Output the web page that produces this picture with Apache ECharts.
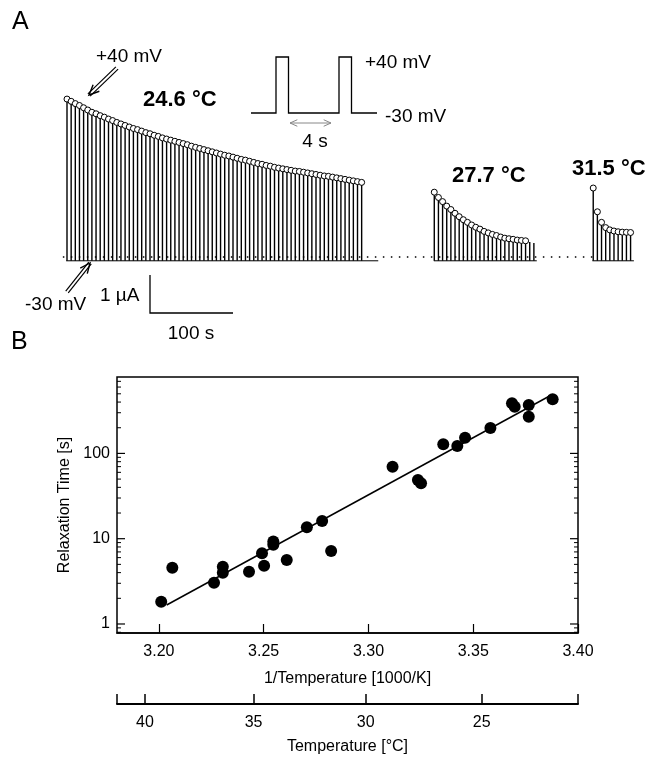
<!DOCTYPE html>
<html>
<head>
<meta charset="utf-8">
<script src="https://cdn.jsdelivr.net/npm/echarts@6/dist/echarts.min.js"></script>
<style>
  html, body { margin: 0; padding: 0; background: #fff; }
  #chart { width: 657px; height: 762px; }
</style>
</head>
<body>
<div id="chart"></div>
<script>
// panel A: peak outward current (µA) of each +40 mV pulse, one pulse every 5 s
const pulsePeriod = 5
const run246Start = 0
const run246Peaks = [
  4.19, 4.13, 4.07, 4.02, 3.96, 3.90, 3.84, 3.80, 3.75, 3.71, 3.66, 3.62, 3.57, 3.53, 3.49,
  3.45, 3.41, 3.38, 3.34, 3.30, 3.27, 3.23, 3.20, 3.16, 3.13, 3.10, 3.07, 3.04, 3.01, 2.98,
  2.94, 2.91, 2.88, 2.85, 2.82, 2.79, 2.76, 2.73, 2.70, 2.68, 2.65, 2.62, 2.59, 2.57, 2.54,
  2.51, 2.48, 2.46, 2.43, 2.41, 2.38, 2.36, 2.34, 2.32, 2.30, 2.28, 2.27, 2.25, 2.23, 2.21,
  2.19, 2.17, 2.15, 2.14, 2.12, 2.10, 2.08, 2.06, 2.04, 2.02, 2.00, 1.98
]
const run277Start = 442.5
const run277Peaks = [
  1.72, 1.58, 1.47, 1.35, 1.26, 1.16, 1.07, 0.99, 0.92, 0.85, 0.79, 0.74, 0.68,
  0.64, 0.60, 0.57, 0.53, 0.50, 0.485, 0.47, 0.45, 0.44, 0.43, 0.40, 0.37
]
const run277Marked = 23
const run315Start = 634
const run315Peaks = [1.83, 1.20, 0.92, 0.78, 0.72, 0.69, 0.67, 0.66, 0.655, 0.65]
const traceFloor = -0.1
const baselineSpan = [-5, 634]
const floorSpans = [[-1, 375], [442, 566], [633, 683]]

// panel B: relaxation time vs 1/T
const invTemp = [
  3.2011, 3.2064, 3.2263, 3.2305, 3.2305, 3.2430, 3.2492, 3.2502, 3.2546, 3.2546,
  3.2610, 3.2706, 3.2779, 3.2822, 3.3115, 3.3236, 3.3251, 3.3357, 3.3424, 3.3461,
  3.3582, 3.3685, 3.3698, 3.3765, 3.3765, 3.3879
]
const relaxTime = [
  1.82, 4.57, 3.05, 4.7, 4.0, 4.10, 6.74, 4.83, 9.3, 8.5,
  5.63, 13.6, 16.1, 7.17, 69.8, 48.8, 44.6, 128, 122, 153,
  199, 387, 353, 369, 269, 431
]
const fitLine = [[3.2037, 1.67], [3.3873, 484]]
const invTempRange = [3.18, 3.40]
const invTempTicks = [3.20, 3.25, 3.30, 3.35, 3.40]
const relaxRange = [0.784, 787]
const relaxTicks = [1, 10, 100]
const relaxMinorTicks = [0.8, 0.9, 2, 3, 4, 5, 6, 7, 8, 9, 20, 30, 40, 50, 60, 70, 80, 90,
  200, 300, 400, 500, 600, 700]
const celsiusTicks = [40, 35, 30, 25]

const FONT = '"Liberation Sans", Arial, Helvetica, sans-serif'
const chart = echarts.init(document.getElementById('chart'), null, { renderer: 'canvas' })

const toInv = c => 1000 / (c + 273.15)
const pulses = (start, peaks) => peaks.map((v, i) => [start + i * pulsePeriod, v])

const run246 = pulses(run246Start, run246Peaks)
const run277 = pulses(run277Start, run277Peaks)
const run315 = pulses(run315Start, run315Peaks)

function renderSpike (params, api) {
  const top = api.coord([api.value(0), api.value(1)])
  const bot = api.coord([api.value(0), traceFloor])
  return {
    type: 'line',
    shape: { x1: top[0], y1: top[1], x2: bot[0], y2: bot[1] },
    style: { stroke: '#000', lineWidth: 1.4 }
  }
}

function spikeSeries (data) {
  return {
    type: 'custom', xAxisIndex: 0, yAxisIndex: 0, clip: false,
    renderItem: renderSpike, data: data, silent: true
  }
}

function peakSeries (data) {
  return {
    type: 'scatter', xAxisIndex: 0, yAxisIndex: 0, symbol: 'circle', symbolSize: 6,
    itemStyle: { color: '#fff', borderColor: '#000', borderWidth: 1, opacity: 1 },
    data: data, silent: true, z: 3
  }
}

// inward tick marks on both sides of the log axis, placed by the log scale
function renderLogTick (params, api) {
  const y = api.coord([invTempRange[0], api.value(1)])[1]
  const len = api.value(2)
  const cs = params.coordSys
  const st = { stroke: '#000', lineWidth: len > 5 ? 1.2 : 1 }
  return {
    type: 'group',
    children: [
      { type: 'line', shape: { x1: cs.x, y1: y, x2: cs.x + len, y2: y }, style: st },
      { type: 'line', shape: { x1: cs.x + cs.width, y1: y, x2: cs.x + cs.width - len, y2: y }, style: st }
    ]
  }
}
const tickData = relaxTicks.map(v => [invTempRange[0], v, 8])
  .concat(relaxMinorTicks.map(v => [invTempRange[0], v, 4]))

// small arrow helpers for the annotations
function arrowHead (x, y, ang, len, color, lw) {
  const p1 = [x - len * Math.cos(ang - 0.42), y - len * Math.sin(ang - 0.42)]
  const p2 = [x - len * Math.cos(ang + 0.42), y - len * Math.sin(ang + 0.42)]
  return { type: 'polyline', shape: { points: [p1, [x, y], p2] }, style: { stroke: color, lineWidth: lw, fill: null } }
}
function doubleArrow (x1, y1, x2, y2) {
  const a = Math.atan2(y2 - y1, x2 - x1)
  const nx = -Math.sin(a) * 1.6, ny = Math.cos(a) * 1.6
  return [
    { type: 'line', shape: { x1: x1 + nx, y1: y1 + ny, x2: x2 + nx, y2: y2 + ny }, style: { stroke: '#000', lineWidth: 1.2 } },
    { type: 'line', shape: { x1: x1 - nx, y1: y1 - ny, x2: x2 - nx, y2: y2 - ny }, style: { stroke: '#000', lineWidth: 1.2 } },
    arrowHead(x2, y2, a, 11, '#000', 1.4)
  ]
}
function txt (x, y, s, size, opts) {
  return {
    type: 'text', x: x, y: y,
    style: { text: s, font: (opts && opts.bold ? 'bold ' : '') + size + 'px ' + FONT, fill: '#000', verticalAlign: 'middle', align: (opts && opts.align) || 'left' }
  }
}

const graphics = [
  txt(12, 22, 'A', 25),
  txt(11, 342, 'B', 25),
  txt(96, 57, '+40 mV', 19),
  txt(143, 100, '24.6 °C', 22, { bold: true }),
  txt(452, 176, '27.7 °C', 22, { bold: true }),
  txt(572, 169, '31.5 °C', 22, { bold: true }),
  txt(365, 63, '+40 mV', 19),
  txt(385, 117, '-30 mV', 19),
  txt(315, 142, '4 s', 19, { align: 'center' }),
  txt(25, 305, '-30 mV', 19),
  txt(100, 296, '1 µA', 19),
  txt(191, 334, '100 s', 19, { align: 'center' }),
  // voltage protocol inset
  { type: 'polyline', shape: { points: [[251, 113], [276, 113], [276, 57], [288.5, 57], [288.5, 113], [339, 113], [339, 57], [351.5, 57], [351.5, 113], [377, 113]] },
    style: { stroke: '#000', lineWidth: 1.3, fill: null } },
  { type: 'line', shape: { x1: 290, y1: 123, x2: 331, y2: 123 }, style: { stroke: '#888', lineWidth: 1 } },
  arrowHead(290, 123, Math.PI, 8, '#888', 1),
  arrowHead(331, 123, 0, 8, '#888', 1),
  // scale bars
  { type: 'polyline', shape: { points: [[150, 275], [150, 313], [233, 313]] }, style: { stroke: '#000', lineWidth: 1.3, fill: null } }
].concat(doubleArrow(117, 68, 89, 95), doubleArrow(67, 292, 90, 263))

const option = {
  animation: false,
  backgroundColor: '#fff',
  textStyle: { fontFamily: FONT },
  graphic: graphics,
  grid: [
    { left: 58.7, right: 7, top: 70, height: 220 },
    { left: 117, right: 79, top: 377, bottom: 129, show: true, borderColor: '#000', borderWidth: 1.5, backgroundColor: 'transparent' },
    { left: 117, right: 79, top: 694, bottom: 58 }
  ],
  xAxis: [
    { gridIndex: 0, type: 'value', min: -10, max: 702.4, show: false },
    {
      gridIndex: 1, type: 'value', min: invTempRange[0], max: invTempRange[1], position: 'bottom',
      name: '1/Temperature [1000/K]', nameLocation: 'middle', nameGap: 38,
      nameTextStyle: { fontSize: 16, color: '#000', fontFamily: FONT },
      axisLine: { onZero: false, lineStyle: { color: '#000', width: 1.5 } },
      axisTick: { inside: true, length: 9, customValues: invTempTicks, lineStyle: { color: '#000', width: 1.2 } },
      axisLabel: { customValues: invTempTicks, formatter: v => v.toFixed(2), fontSize: 16, color: '#000', margin: 11, fontFamily: FONT },
      splitLine: { show: false }
    },
    {
      gridIndex: 2, type: 'value', min: invTempRange[0], max: invTempRange[1], position: 'bottom',
      name: 'Temperature [°C]', nameLocation: 'middle', nameGap: 35,
      nameTextStyle: { fontSize: 16, color: '#000', fontFamily: FONT },
      axisLine: { onZero: false, lineStyle: { color: '#000', width: 2 } },
      axisTick: { inside: true, length: 10, customValues: invTempRange.concat(celsiusTicks.map(toInv)), lineStyle: { color: '#000', width: 1.5 } },
      axisLabel: { customValues: celsiusTicks.map(toInv), formatter: v => String(Math.round(1000 / v - 273.15)), fontSize: 16, color: '#000', margin: 11, fontFamily: FONT },
      splitLine: { show: false }
    }
  ],
  yAxis: [
    { gridIndex: 0, type: 'value', min: -0.875, max: 4.961, show: false },
    {
      gridIndex: 1, type: 'log', min: relaxRange[0], max: relaxRange[1], position: 'left',
      name: 'Relaxation Time [s]', nameLocation: 'middle', nameGap: 39,
      nameTextStyle: { fontSize: 16, color: '#000', fontFamily: FONT },
      axisLine: { show: false },
      axisTick: { show: false },
      axisLabel: { customValues: relaxTicks, fontSize: 16, color: '#000', margin: 7, fontFamily: FONT },
      splitLine: { show: false }
    },
    { gridIndex: 2, type: 'value', min: 0, max: 1, show: false }
  ],
  series: [
    {
      type: 'line', xAxisIndex: 0, yAxisIndex: 0, symbol: 'none', silent: true,
      data: baselineSpan.map(t => [t, 0]),
      lineStyle: { color: '#000', width: 1.3, type: [1.5, 6.5] }
    },
    ...floorSpans.map(s => ({
      type: 'line', xAxisIndex: 0, yAxisIndex: 0, symbol: 'none', silent: true,
      data: s.map(t => [t, traceFloor]), lineStyle: { color: '#000', width: 1 }
    })),
    spikeSeries(run246), peakSeries(run246),
    spikeSeries(run277), peakSeries(run277.slice(0, run277Marked)),
    spikeSeries(run315), peakSeries(run315),
    {
      type: 'custom', xAxisIndex: 1, yAxisIndex: 1, clip: false, silent: true,
      renderItem: renderLogTick, data: tickData, encode: { x: 0, y: 1 }, z: 4
    },
    {
      type: 'line', xAxisIndex: 1, yAxisIndex: 1, symbol: 'none', silent: true,
      data: fitLine, lineStyle: { color: '#000', width: 1.5 }, z: 2
    },
    {
      type: 'scatter', xAxisIndex: 1, yAxisIndex: 1, symbol: 'circle', symbolSize: 12,
      itemStyle: { color: '#000', opacity: 1 }, silent: true, z: 3,
      data: invTemp.map((x, i) => [x, relaxTime[i]])
    }
  ]
}

chart.setOption(option)
</script>
</body>
</html>
